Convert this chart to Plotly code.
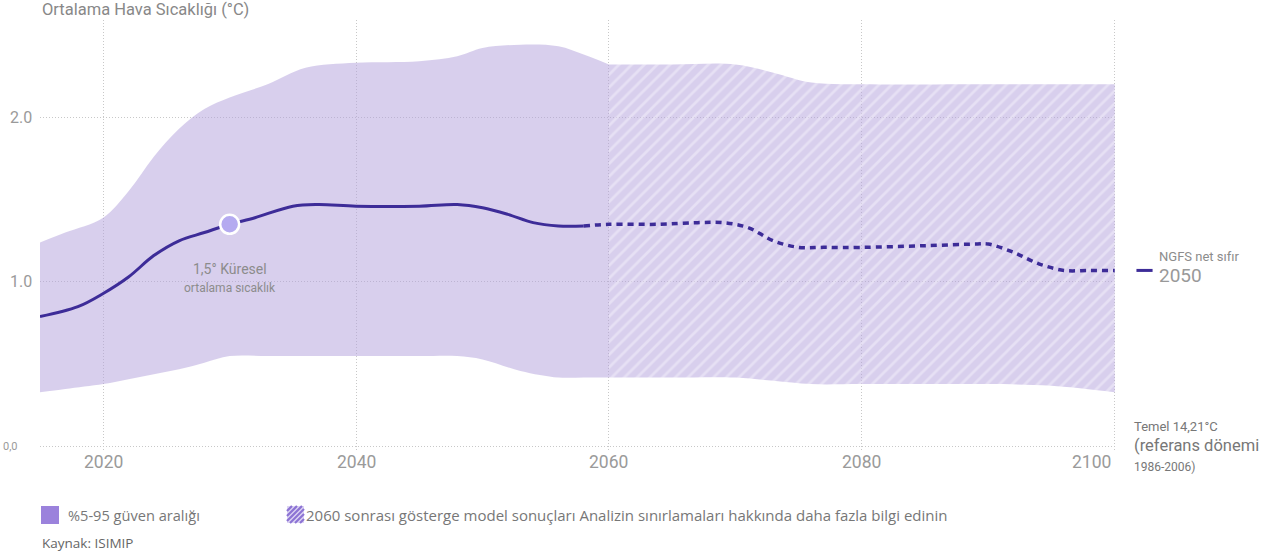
import plotly.graph_objects as go

# Confidence band (5-95 %) around the mean temperature anomaly
band_years = [2015, 2017, 2020, 2022, 2024, 2026, 2028, 2030, 2033, 2036, 2040, 2045,
              2048, 2050, 2053, 2056, 2058, 2060, 2065, 2070, 2073, 2076, 2080, 2090,
              2095, 2100]
band_upper = [1.24, 1.30, 1.39, 1.55, 1.76, 1.93, 2.05, 2.12, 2.20, 2.30, 2.33, 2.34,
              2.37, 2.42, 2.44, 2.43, 2.38, 2.32, 2.32, 2.32, 2.27, 2.21, 2.20, 2.20,
              2.20, 2.20]
band_lower = [0.33, 0.35, 0.38, 0.41, 0.44, 0.47, 0.51, 0.55, 0.55, 0.55, 0.55, 0.55,
              0.55, 0.53, 0.46, 0.42, 0.42, 0.42, 0.42, 0.42, 0.40, 0.38, 0.38, 0.38,
              0.37, 0.33]

# NGFS net zero 2050 mean path
line_years = [2015, 2018, 2020, 2022, 2024, 2026, 2028, 2030, 2032, 2035, 2037, 2040,
              2045, 2048, 2050, 2052, 2054, 2056, 2058, 2060, 2064, 2067, 2069, 2071,
              2073, 2075, 2077, 2080, 2085, 2089, 2090, 2092, 2094, 2096, 2098, 2100]
line_vals = [0.79, 0.85, 0.93, 1.03, 1.16, 1.25, 1.30, 1.35, 1.39, 1.46, 1.47, 1.46,
             1.46, 1.47, 1.45, 1.41, 1.36, 1.34, 1.34, 1.35, 1.35, 1.36, 1.36, 1.33,
             1.25, 1.21, 1.21, 1.21, 1.22, 1.23, 1.23, 1.18, 1.11, 1.07, 1.07, 1.07]

x_ticks = [2020, 2040, 2060, 2080, 2100]
y_ticks = [0.0, 1.0, 2.0]
y_tick_labels = ["0,0", "1.0", "2.0"]

marker_year = 2030
hatch_start = 2060
dash_start = 2058

BAND = "rgba(178,160,220,0.5)"
LINE = "#3d2c98"
GREY = "#8c8c8c"
FONT = "Roboto"
FONT2 = "Open Sans"

X0, X1 = 2015, 2100.1
Y0, Y1 = -0.02, 2.59

fig = go.Figure()


def band_part(cond):
    idx = [i for i, y in enumerate(band_years) if cond(y)]
    xs = [band_years[i] for i in idx]
    return xs, [band_lower[i] for i in idx], [band_upper[i] for i in idx]


# solid band up to 2060
xs, lo, up = band_part(lambda y: y <= hatch_start)
fig.add_trace(go.Scatter(x=xs, y=lo, mode="lines", line=dict(width=0, shape="spline"),
                         hoverinfo="skip", showlegend=False))
fig.add_trace(go.Scatter(x=xs, y=up, mode="lines", line=dict(width=0, shape="spline"),
                         fill="tonexty", fillcolor=BAND, hoverinfo="skip", showlegend=False))

# hatched band after 2060
xs, lo, up = band_part(lambda y: y >= hatch_start)
fig.add_trace(go.Scatter(x=xs, y=lo, mode="lines", line=dict(width=0, shape="spline"),
                         hoverinfo="skip", showlegend=False))
fig.add_trace(go.Scatter(x=xs, y=up, mode="lines", line=dict(width=0, shape="spline"),
                         fill="tonexty", fillcolor=BAND,
                         fillpattern=dict(shape="/", size=9, solidity=0.3,
                                          fgcolor="rgba(255,255,255,0.7)",
                                          bgcolor=BAND, fillmode="overlay"),
                         hoverinfo="skip", showlegend=False))

# mean path: solid, then dashed
ix = [i for i, y in enumerate(line_years) if y <= dash_start]
fig.add_trace(go.Scatter(x=[line_years[i] for i in ix], y=[line_vals[i] for i in ix],
                         mode="lines", line=dict(color=LINE, width=3, shape="spline"),
                         showlegend=False))
ix = [i for i, y in enumerate(line_years) if y >= dash_start]
fig.add_trace(go.Scatter(x=[line_years[i] for i in ix], y=[line_vals[i] for i in ix],
                         mode="lines", line=dict(color=LINE, width=3.5, shape="spline",
                                                 dash="6px,5px"),
                         showlegend=False))

# 1.5 degree marker
mv = line_vals[line_years.index(marker_year)]
fig.add_trace(go.Scatter(x=[marker_year], y=[mv], mode="markers",
                         marker=dict(size=19, color="#b4aaf0", line=dict(color="white", width=2.5)),
                         showlegend=False))
fig.add_annotation(x=marker_year, y=mv, yshift=-45, text="1,5° Küresel", showarrow=False,
                   yanchor="middle", font=dict(family=FONT, size=14, color=GREY))
fig.add_annotation(x=marker_year, y=mv, yshift=-64, text="ortalama sıcaklık", showarrow=False,
                   yanchor="middle", font=dict(family=FONT, size=12, color=GREY))

# axis labels as annotations
for v, t in zip(y_ticks, y_tick_labels):
    small = v == 0
    fig.add_annotation(xref="paper", x=0, xshift=-20 if small else -6, y=v, text=t, showarrow=False,
                       xanchor="right", yanchor="middle",
                       font=dict(family=FONT, size=11 if small else 16, color="#9a9a9a"))
for v in x_ticks:
    last = v == x_ticks[-1]
    fig.add_annotation(x=v, y=0, yshift=-15, text=str(v), showarrow=False,
                       xanchor="right" if last else "center", yanchor="middle",
                       xshift=-2 if last else 0,
                       font=dict(family=FONT, size=17.5, color="#9a9a9a"))

# right side labels
fig.add_shape(type="line", xref="paper", yref="y", x0=1.019, x1=1.034,
              y0=line_vals[-1], y1=line_vals[-1], line=dict(color=LINE, width=3))
fig.add_annotation(xref="paper", x=1.038, y=line_vals[-1], yshift=14, text="NGFS net sıfır",
                   showarrow=False, xanchor="left", yanchor="middle",
                   font=dict(family=FONT, size=13, color=GREY))
fig.add_annotation(xref="paper", x=1.038, y=line_vals[-1], yshift=-5, text="2050",
                   showarrow=False, xanchor="left", yanchor="middle",
                   font=dict(family=FONT, size=19, color="#999"))
fig.add_annotation(xref="paper", x=1.015, y=0, yshift=20, text="Temel 14,21°C",
                   showarrow=False, xanchor="left", yanchor="middle",
                   font=dict(family=FONT, size=13, color="#777"))
fig.add_annotation(xref="paper", x=1.015, y=0, yshift=1, text="(referans dönemi",
                   showarrow=False, xanchor="left", yanchor="middle",
                   font=dict(family=FONT, size=16.5, color="#777"))
fig.add_annotation(xref="paper", x=1.015, y=0, yshift=-20, text="1986-2006)",
                   showarrow=False, xanchor="left", yanchor="middle",
                   font=dict(family=FONT, size=12, color="#777"))

# title
fig.add_annotation(xref="paper", x=0, yref="paper", y=1, yshift=11, text="Ortalama Hava Sıcaklığı (°C)",
                   showarrow=False, xanchor="left", yanchor="middle",
                   font=dict(family=FONT, size=16.5, color="#888"))

# legend row below the chart (pixel geometry converted to paper units)
PL, PT, PW, PH = 40, 20, 1076, 430


def px(x):
    return (x - PL) / PW


def py(y):
    return (PT + PH - y) / PH


fig.add_shape(type="rect", xref="paper", yref="paper", x0=px(41), x1=px(59), y0=py(524), y1=py(506),
              fillcolor="#9b82dc", line=dict(width=0))
fig.add_annotation(xref="paper", yref="paper", x=px(66), y=py(515), text="%5-95 güven aralığı",
                   showarrow=False, xanchor="left", yanchor="middle",
                   font=dict(family=FONT2, size=14.6, color="#777"))
hx, hy, hs = 287, 506, 17
fig.add_shape(type="rect", xref="paper", yref="paper", x0=px(hx), x1=px(hx + hs),
              y0=py(hy + hs), y1=py(hy), fillcolor="#ddd5f3", line=dict(width=0))
for k in range(-12, 18, 5):
    a0 = max(k, 0)
    a1 = min(k + hs, hs)
    if a1 <= a0:
        continue
    fig.add_shape(type="line", xref="paper", yref="paper",
                  x0=px(hx + a0), y0=py(hy + hs - (a0 - k)), x1=px(hx + a1), y1=py(hy + hs - (a1 - k)),
                  line=dict(color="#8c73d4", width=2.2))
fig.add_annotation(xref="paper", yref="paper", x=px(304), y=py(515),
                   text="2060 sonrası gösterge model sonuçları Analizin sınırlamaları hakkında daha fazla bilgi edinin",
                   showarrow=False, xanchor="left", yanchor="middle",
                   font=dict(family=FONT2, size=15, color="#777"))
fig.add_annotation(xref="paper", yref="paper", x=px(40), y=py(543), text="Kaynak: ISIMIP",
                   showarrow=False, xanchor="left", yanchor="middle",
                   font=dict(family=FONT2, size=13.5, color="#666"))

fig.update_layout(
    width=1273, height=558,
    margin=dict(l=PL, r=1273 - PL - PW, t=PT, b=558 - PT - PH),
    plot_bgcolor="white", paper_bgcolor="white",
    font=dict(family=FONT),
    xaxis=dict(range=[X0, X1], tickvals=x_ticks, showticklabels=False, showgrid=True,
               gridcolor="#c8c8c8", griddash="1px,2px", gridwidth=1, zeroline=False, showline=False),
    yaxis=dict(range=[Y0, Y1], tickvals=y_ticks, showticklabels=False, showgrid=True,
               gridcolor="#c8c8c8", griddash="1px,2px", gridwidth=1, zeroline=False, showline=False),
)

fig.write_html("out.html")
